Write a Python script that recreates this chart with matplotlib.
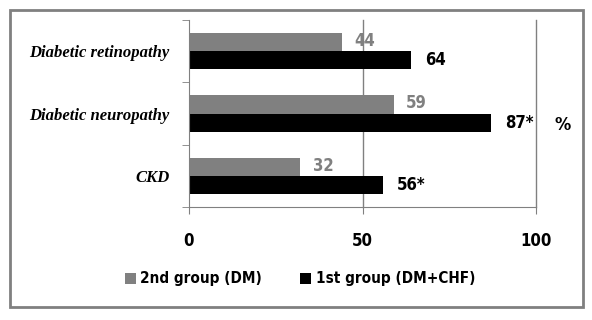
import matplotlib
matplotlib.use("Agg")
import matplotlib.pyplot as plt
from matplotlib.patches import Rectangle
from matplotlib import font_manager
import numpy as np

categories = ["Diabetic retinopathy", "Diabetic neuropathy", "CKD"]
dm_values = [44, 59, 32]          # 2nd group (DM)
dm_chf_values = [64, 87, 56]      # 1st group (DM+CHF)
dm_chf_labels = ["64", "87*", "56*"]
series_names = ["2nd group (DM)", "1st group (DM+CHF)"]
xticks = [0, 50, 100]

gray = "#808080"
# narrow sans for numbers/legend (Arial Narrow look)
nfont = font_manager.FontProperties(family="DejaVu Sans", stretch="condensed",
                                    weight="bold", size=12)
lfont = font_manager.FontProperties(family="DejaVu Sans", stretch="condensed",
                                    weight="bold", size=11)

fig = plt.figure(figsize=(5.92, 3.2), dpi=100)
ax = fig.add_axes([189 / 592, 1 - 207 / 320, (536 - 189) / 592, (207 - 20) / 320])

y = np.arange(len(categories))
h = 0.29
b1 = ax.barh(y - h / 2, dm_values, height=h, color=gray, label=series_names[0])
b2 = ax.barh(y + h / 2, dm_chf_values, height=h, color="black", label=series_names[1])

for yi, v in zip(y, dm_values):
    ax.annotate(str(v), (v, yi - h / 2 - 0.02), xytext=(9, 0), textcoords="offset points",
                va="center", ha="left", color=gray, fontproperties=nfont)
for yi, v, lab in zip(y, dm_chf_values, dm_chf_labels):
    ax.annotate(lab, (v, yi + h / 2), xytext=(10, 0), textcoords="offset points",
                va="center", ha="left", color="black", fontproperties=nfont)

ax.set_xlim(0, 100)
ax.set_ylim(len(categories) - 0.5, -0.5)
ax.set_xticks(xticks)
ax.set_xticklabels([str(t) for t in xticks], fontproperties=nfont)
ax.tick_params(axis="x", length=5, color=gray, pad=13)

ax.set_yticks(y)
ax.set_yticklabels(categories, fontsize=12, fontweight="bold", style="italic",
                   family=["Liberation Serif", "DejaVu Serif"])
ax.set_yticks(np.arange(len(categories) + 1) - 0.5, minor=True)
ax.tick_params(axis="y", which="major", length=0, pad=14)
ax.tick_params(axis="y", which="minor", length=5, color=gray)

for x in [50, 100]:
    ax.axvline(x, color=gray, linewidth=1, zorder=0, clip_on=False)

for side in ["top", "right"]:
    ax.spines[side].set_visible(False)
ax.spines["left"].set_color(gray)
ax.spines["bottom"].set_color(gray)

fig.text(563 / 592, 1 - 125 / 320, "%", fontproperties=nfont, fontsize=13,
         ha="center", va="center")

fig.legend(handles=[b1, b2], labels=series_names, loc="center",
           bbox_to_anchor=(300 / 592, 1 - 279 / 320), ncol=2, frameon=False,
           prop=lfont, handlelength=0.7, handleheight=0.7,
           handletextpad=0.3, columnspacing=2.5)

fig.patches.append(Rectangle((10 / 592, 1 - 307 / 320), 573 / 592, 297 / 320,
                             transform=fig.transFigure, fill=False,
                             edgecolor=gray, linewidth=2))

fig.savefig("out.png", dpi=100)
